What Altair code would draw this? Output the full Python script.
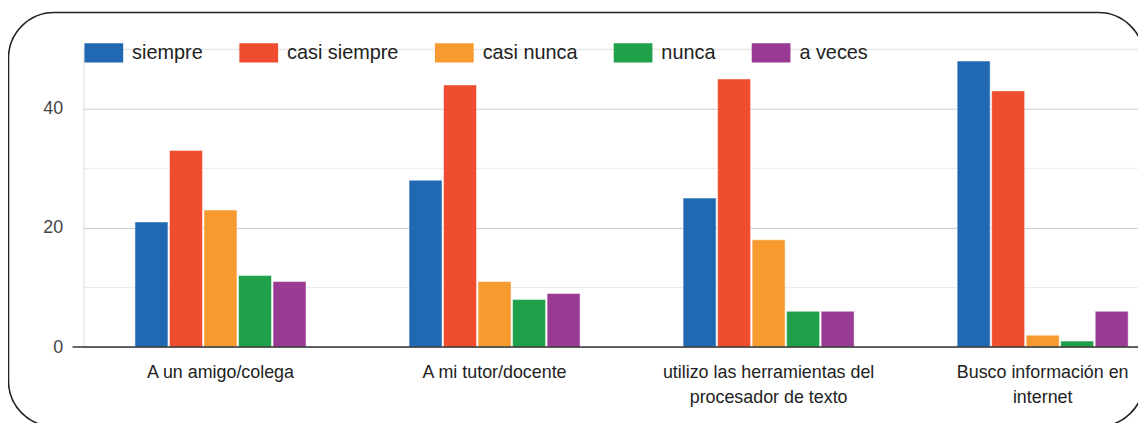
import altair as alt
import pandas as pd

categories = [
    "A un amigo/colega",
    "A mi tutor/docente",
    "utilizo las herramientas del procesador de texto",
    "Busco información en internet",
]
label_lines = [
    ["A un amigo/colega"],
    ["A mi tutor/docente"],
    ["utilizo las herramientas del", "procesador de texto"],
    ["Busco información en", "internet"],
]
series = ["siempre", "casi siempre", "casi nunca", "nunca", "a veces"]
siempre = [21, 28, 25, 48]
casi_siempre = [33, 44, 45, 43]
casi_nunca = [23, 11, 18, 2]
nunca = [12, 8, 6, 1]
a_veces = [11, 9, 6, 6]
colors = ["#2068b2", "#f04c2f", "#f79a30", "#21a04a", "#993b92"]
y_ticks = [0, 20, 40]
minor_ticks = [10, 30, 50]

values = [siempre, casi_siempre, casi_nunca, nunca, a_veces]
rows = []
for s, vals in zip(series, values):
    for c, v in zip(categories, vals):
        rows.append({"category": c, "series": s, "value": v})
df = pd.DataFrame(rows)

# label expression for multi-line x labels
expr = "datum.label"
for c, lines in zip(categories, label_lines):
    if len(lines) > 1:
        arr = "[" + ",".join("'" + l + "'" for l in lines) + "]"
        expr = f"datum.label == '{c}' ? {arr} : ({expr})"

FONT = "Liberation Sans"
W, H = 1062, 300

yscale = alt.Scale(domain=[0, 50], nice=False)

bars = alt.Chart(df).mark_bar(stroke="white", strokeWidth=0.8, strokeOpacity=0.6).encode(
    x=alt.X(
        "category:N",
        sort=categories,
        scale=alt.Scale(range=[0, 1104], paddingInner=0.376, paddingOuter=0.188),
        axis=alt.Axis(
            title=None, ticks=False, domain=False, labelAngle=0,
            labelFont=FONT, labelFontSize=18, labelColor="#222",
            labelPadding=17, labelLineHeight=25, labelExpr=expr, labelLimit=400,
        ),
    ),
    xOffset=alt.XOffset("series:N", sort=series, scale=alt.Scale(paddingInner=0.045)),
    y=alt.Y(
        "value:Q",
        scale=yscale,
        axis=alt.Axis(
            title=None, values=y_ticks, ticks=False, domain=False,
            grid=True, gridColor="#cccccc", labelFont=FONT, labelFontSize=18,
            labelColor="#444", labelPadding=21,
        ),
    ),
    color=alt.Color(
        "series:N",
        sort=series,
        scale=alt.Scale(domain=series, range=colors),
        legend=alt.Legend(
            orient="none", legendX=1, legendY=-16, direction="horizontal",
            title=None, symbolType="M-1,-0.5H1V0.5H-1Z", symbolSize=1521,
            symbolStrokeWidth=0, symbolOpacity=1, labelFontSize=20, labelColor="#222",
            labelFont=FONT, columnPadding=36, labelOffset=9, labelLimit=300,
        ),
    ),
)

minor = alt.Chart(pd.DataFrame({"v": minor_ticks})).mark_rule(color="#ebebeb", strokeWidth=1).encode(
    y=alt.Y("v:Q", scale=yscale)
)

baseline = alt.Chart(pd.DataFrame({"v": [0]})).mark_rule(color="#333333", strokeWidth=1.5).encode(
    y=alt.Y("v:Q", scale=yscale), x=alt.value(-11), x2=alt.value(W)
)

frame = alt.Chart(pd.DataFrame({"a": [0]})).mark_rect(
    filled=False, stroke="#222222", strokeWidth=1.6, cornerRadius=46
).encode(
    x=alt.value(-75.5), x2=alt.value(1068), y=alt.value(-37), y2=alt.value(380)
)

chart = alt.layer(frame, minor, bars, baseline).properties(
    width=W, height=H,
    autosize=alt.AutoSizeParams(type="none"),
    padding={"left": 76, "top": 40, "right": 0, "bottom": 75},
).configure_view(stroke=None).configure(background="white")

chart.save("out.html", embed_options={"renderer": "svg", "actions": False})
